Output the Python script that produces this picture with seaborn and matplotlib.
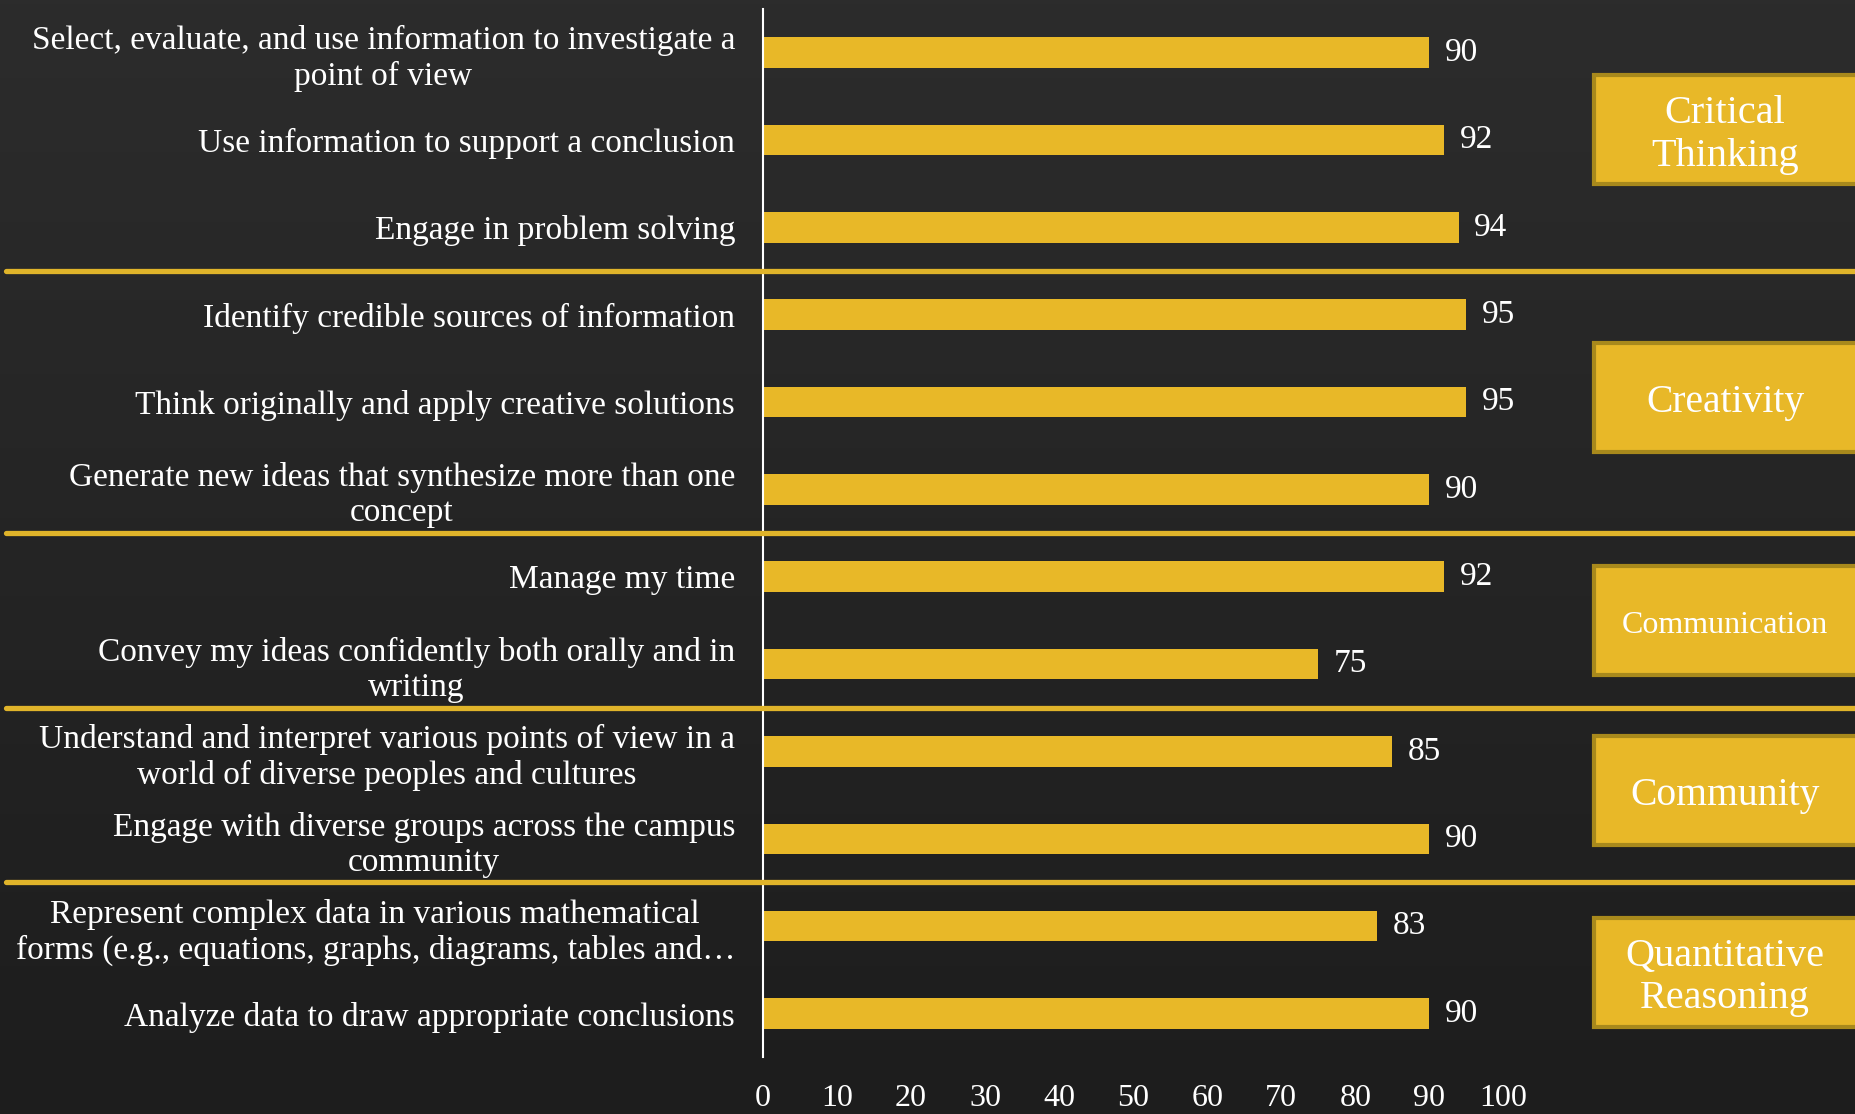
import numpy as np
import matplotlib
matplotlib.use("Agg")
import matplotlib.pyplot as plt
import matplotlib.transforms as mtransforms
from matplotlib.patches import Rectangle
import seaborn as sns

# -------------------------------
# Data
# -------------------------------
skills = [
    "Select, evaluate, and use information to investigate a\npoint of view",
    "Use information to support a conclusion",
    "Engage in problem solving",
    "Identify credible sources of information",
    "Think originally and apply creative solutions",
    "Generate new ideas that synthesize more than one\nconcept",
    "Manage my time",
    "Convey my ideas confidently both orally and in\nwriting",
    "Understand and interpret various points of view in a\nworld of diverse peoples and cultures",
    "Engage with diverse groups across the campus\ncommunity",
    "Represent complex data in various mathematical\nforms (e.g., equations, graphs, diagrams, tables and\u2026",
    "Analyze data to draw appropriate conclusions",
]
scores = [90, 92, 94, 95, 95, 90, 92, 75, 85, 90, 83, 90]

groups = ["Critical\nThinking", "Creativity", "Communication", "Community", "Quantitative\nReasoning"]
group_first = [0, 3, 6, 8, 10]
group_last = [2, 5, 7, 9, 11]

x_ticks = list(range(0, 101, 10))

# style
GOLD = "#E8B828"
GOLD_EDGE = "#A8891C"
SERIF = ["Liberation Serif", "DejaVu Serif"]
group_fontsize = [29, 28.5, 23, 28.5, 29]
group_shift = [-0.12, -0.05, 0.0, -0.05, 0.03]

sns.set_style("dark")
plt.rcParams["font.family"] = SERIF

fig = plt.figure(figsize=(18.56, 11.14), dpi=100)
fig.patch.set_facecolor("#262626")

# background gradient
bg = fig.add_axes([0, 0, 1, 1], zorder=-10)
grad = np.linspace(0, 1, 256).reshape(-1, 1)
bg.imshow(grad, aspect="auto", cmap=matplotlib.colors.LinearSegmentedColormap.from_list(
    "bg", ["#2c2c2c", "#1d1d1d"]), extent=[0, 1, 0, 1])
bg.axis("off")

ax = fig.add_axes([0.411, 0.051, 0.399, 0.941])
ax.set_facecolor("none")

sns.barplot(x=scores, y=skills, orient="h", color=GOLD, width=0.35,
            saturation=1, linewidth=0, ax=ax)

ax.bar_label(ax.containers[0], padding=11, color="white", fontsize=24)

ax.set_xlim(0, 100)
ax.set_ylim(11.5, -0.5)
ax.set_xticks(x_ticks)
ax.set_xticklabels([str(t) for t in x_ticks])
ax.tick_params(axis="x", length=0, pad=19, labelsize=23, colors="white")
ax.tick_params(axis="y", length=0, pad=20, labelsize=24, colors="white")
for lab in ax.get_yticklabels():
    lab.set_multialignment("center")
    lab.set_linespacing(1.2)
ax.grid(False)
ax.set_xlabel("")
ax.set_ylabel("")
for side in ["top", "right", "bottom"]:
    ax.spines[side].set_visible(False)
ax.spines["left"].set_color("white")
ax.spines["left"].set_linewidth(1.5)

# separators between groups
trans = mtransforms.blended_transform_factory(fig.transFigure, ax.transData)
for first in group_first[1:]:
    y = first - 0.5
    ax.plot([0.003, 1.0], [y, y], transform=trans, color="#E0B42A", lw=3.8,
            solid_capstyle="round", clip_on=False, zorder=5)

# category boxes
box_h = 1.245
for name, a, b, fs, dy in zip(groups, group_first, group_last, group_fontsize, group_shift):
    yc = (a + b) / 2 + dy
    rect = Rectangle((0.859, yc - box_h / 2), 0.16, box_h, transform=trans,
                     facecolor=GOLD, edgecolor=GOLD_EDGE, lw=3, clip_on=False, zorder=6)
    ax.add_patch(rect)
    ax.text(0.9295, yc + 0.06, name, transform=trans, ha="center", va="center",
            color="white", fontsize=fs, linespacing=1.2, zorder=7, clip_on=False)

fig.savefig("out.png", dpi=100, facecolor=fig.get_facecolor())
